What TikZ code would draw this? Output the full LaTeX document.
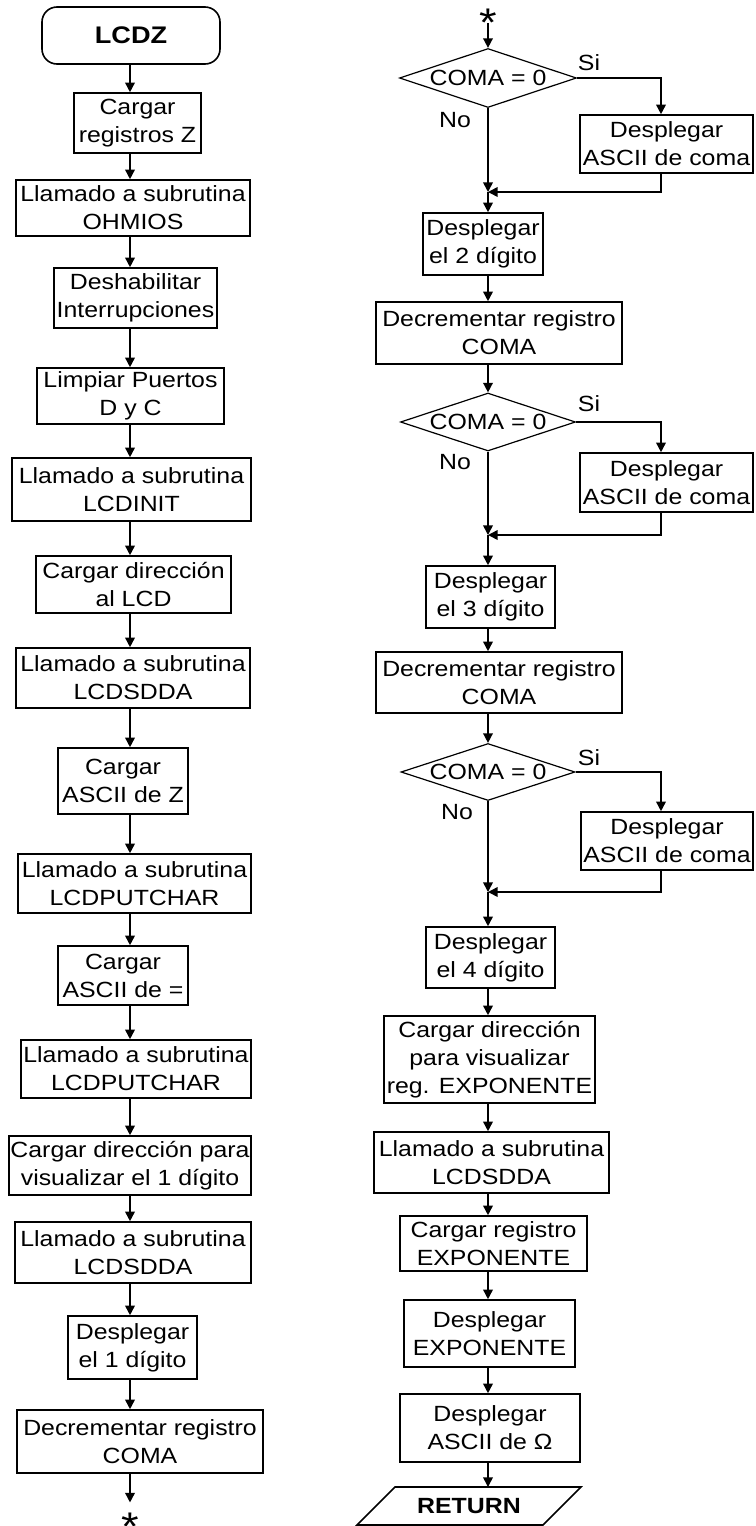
\documentclass[tikz,border=0pt]{standalone}
\usepackage{fontspec}
\setmainfont{Liberation Sans}[FakeStretch=1.13]
\usetikzlibrary{arrows.meta,shapes.geometric}

% box given by its corners (x1,y1) (x2,y2), in drawing units
\newcommand\flowbox[6]{%
  \node[box, minimum width={(#4-#2)*0.5pt}, minimum height={(#5-#3)*0.5pt}]
    (#1) at ({(#2+#4)/2},{(#3+#5)/2}) {#6};}

\begin{document}
\begin{tikzpicture}[x=0.5pt,y=-0.5pt,
  line width=0.8pt,
  every node/.style={font=\fontsize{11}{14}\selectfont},
  box/.style={draw, rectangle, inner sep=0pt, align=center},
  decision/.style={draw, diamond, shape aspect=3, inner sep=0pt, line width=0.6pt},
  arr/.style={-{Triangle[width=4.8pt,length=4.8pt]}},
  lbl/.style={inner sep=0pt},
  starmark/.style={inner sep=0pt, font=\fontsize{20}{20}\selectfont},
]
\useasboundingbox (0,0) rectangle (755,1526);

% column axes
\coordinate (L) at (130,0);
\coordinate (C) at (488,0);
\coordinate (R) at (661,0);

% ---------------- left column ----------------
\node[draw, rounded corners=7.5pt, inner sep=0pt, minimum width=89pt, minimum height=28.5pt,
      font=\fontsize{12}{14}\selectfont\bfseries] (start) at (131,35.5) {LCDZ};
\flowbox{b1}{74}{93}{201}{153}{Cargar\\registros Z}
\flowbox{b2}{16}{180}{250}{236}{Llamado a subrutina\\OHMIOS}
\flowbox{b3}{54}{268}{217}{328}{Deshabilitar\\Interrupciones}
\flowbox{b4}{37}{368}{224}{424}{Limpiar Puertos\\D y C}
\flowbox{b5}{12}{458}{251}{521}{Llamado a subrutina\\LCDINIT}
\flowbox{b6}{36}{556}{231}{613}{Cargar dirección\\al LCD}
\flowbox{b7}{16}{648}{250}{708}{Llamado a subrutina\\LCDSDDA}
\flowbox{b8}{58}{748}{188}{814}{Cargar\\ASCII de Z}
\flowbox{b9}{18}{854}{251}{913}{Llamado a subrutina\\LCDPUTCHAR}
\flowbox{b10}{58}{946}{188}{1005}{Cargar\\ASCII de =}
\flowbox{b11}{21}{1040}{251}{1098}{Llamado a subrutina\\LCDPUTCHAR}
\flowbox{b12}{9}{1136}{251}{1195}{Cargar dirección para\\visualizar el 1 dígito}
\flowbox{b13}{15}{1222}{251}{1283}{Llamado a subrutina\\LCDSDDA}
\flowbox{b14}{68}{1316}{197}{1379}{Desplegar\\el 1 dígito}
\flowbox{b15}{17}{1410}{263}{1473}{Decrementar registro\\COMA}
\node[starmark] (st2) at (130,1527) {*};

\draw[arr] (start.south -| L) -- (b1.north -| L);
\foreach \a/\b in {b1/b2,b2/b3,b3/b4,b4/b5,b5/b6,b6/b7,b7/b8,b8/b9,b9/b10,
                   b10/b11,b11/b12,b12/b13,b13/b14,b14/b15}
  \draw[arr] (\a.south -| L) -- (\b.north -| L);
\draw[arr, shorten >=5pt] (b15.south -| L) -- (st2.north);

% ---------------- right column ----------------
\node[starmark] (st1) at (488,23) {*};

\node[decision, minimum width=88.5pt, minimum height=29.5pt] (d1) at (488,78) {COMA = 0};
\node[lbl] (si1) at (589,63) {Si};
\node[lbl] (no1) at (455,120) {No};
\flowbox{s1}{580}{115}{753}{173}{Desplegar\\ASCII de coma}
\coordinate (j1) at (488,192);
\flowbox{c2}{423}{213}{543}{275}{Desplegar\\el 2 dígito}
\flowbox{r2}{376}{302}{622}{364}{Decrementar registro\\COMA}

\node[decision, minimum width=87.5pt, minimum height=29pt] (d2) at (488,422) {COMA = 0};
\node[lbl] (si2) at (589,404) {Si};
\node[lbl] (no2) at (455,462) {No};
\flowbox{s2}{580}{453}{753}{512}{Desplegar\\ASCII de coma}
\coordinate (j2) at (488,535);
\flowbox{c3}{426}{566}{555}{628}{Desplegar\\el 3 dígito}
\flowbox{r3}{376}{652}{622}{713}{Decrementar registro\\COMA}

\node[decision, minimum width=87pt, minimum height=28.5pt] (d3) at (488,772) {COMA = 0};
\node[lbl] (si3) at (589,758) {Si};
\node[lbl] (no3) at (457,812) {No};
\flowbox{s3}{581}{812}{753}{870}{Desplegar\\ASCII de coma}
\coordinate (j3) at (488,892);
\flowbox{c4}{426}{927}{555}{988}{Desplegar\\el 4 dígito}

\flowbox{e1}{384}{1016}{595}{1103}{Cargar dirección\\para visualizar\\reg. EXPONENTE}
\flowbox{e2}{374}{1132}{609}{1193}{Llamado a subrutina\\LCDSDDA}
\flowbox{e3}{400}{1216}{587}{1271}{Cargar registro\\EXPONENTE}
\flowbox{e4}{404}{1300}{575}{1367}{Desplegar\\EXPONENTE}
\flowbox{e5}{400}{1394}{580}{1462}{Desplegar\\ASCII de Ω}

% RETURN parallelogram
\draw (395,1487) -- (581,1487) -- (543,1525) -- (357,1525) -- cycle;
\node[inner sep=0pt, font=\fontsize{11}{14}\selectfont\bfseries] (ret) at (469,1506) {RETURN};
\coordinate (rettop) at (488,1487);

% decision connectors
\draw[arr] (st1.center) -- (d1.north);
\draw[arr] (d1.east) -| (s1.north -| R);
\draw[arr] (d1.south) -- (j1);
\draw[arr] (s1.south -| R) |- (j1);
\draw[arr] (j1) -- (c2.north -| C);
\draw[arr] (c2.south -| C) -- (r2.north -| C);
\draw[arr] (r2.south -| C) -- (d2.north);

\draw[arr] (d2.east) -| (s2.north -| R);
\draw[arr] (d2.south) -- (j2);
\draw[arr] (s2.south -| R) |- (j2);
\draw[arr] (j2) -- (c3.north -| C);
\draw[arr] (c3.south -| C) -- (r3.north -| C);
\draw[arr] (r3.south -| C) -- (d3.north);

\draw[arr] (d3.east) -| (s3.north -| R);
\draw[arr] (d3.south) -- (j3);
\draw[arr] (s3.south -| R) |- (j3);
\draw[arr] (j3) -- (c4.north -| C);

\foreach \a/\b in {c4/e1,e1/e2,e2/e3,e3/e4,e4/e5}
  \draw[arr] (\a.south -| C) -- (\b.north -| C);
\draw[arr] (e5.south -| C) -- (rettop);
\end{tikzpicture}
\end{document}
